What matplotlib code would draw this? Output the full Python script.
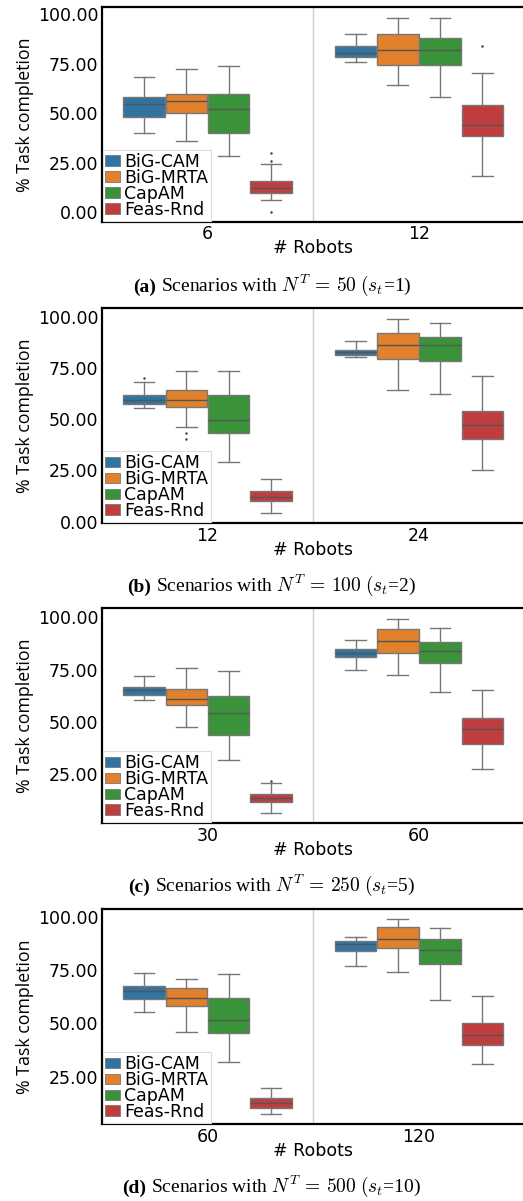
"""
Task completion boxplots, four scenario sizes.
"""
import matplotlib
matplotlib.use("Agg")
import matplotlib.pyplot as plt
from matplotlib.patches import Patch
import numpy as np

plt.rcParams["mathtext.fontset"] = "cm"

methods = ["BiG-CAM", "BiG-MRTA", "CapAM", "Feas-Rnd"]
colors = ["#3274a1", "#e1812c", "#3a923a", "#c03d3e"]

# box stats, rows = robot count, cols = method order above
# panel (a) N^T = 50
a_robots = ["6", "12"]
a_hi = [[68.1, 72.3, 74.1, 24.2], [90.3, 98.3, 98.3, 70.4]]
a_q3 = [[58.2, 60.0, 60.0, 16.0], [84.2, 90.3, 88.2, 54.1]]
a_med = [[54.5, 56.3, 52.3, 12.1], [80.5, 82.2, 82.2, 44.2]]
a_q1 = [[48.2, 50.3, 40.2, 9.9], [78.5, 74.3, 74.3, 38.3]]
a_lo = [[40.3, 36.1, 28.2, 6.1], [76.1, 64.2, 58.2, 18.2]]
a_fliers = [[[], [], [], [30.1, 26.1, 0.0]], [[], [], [], [84.2]]]

# panel (b) N^T = 100
b_robots = ["12", "24"]
b_hi = [[68.1, 73.3, 73.3, 21.0], [88.3, 99.0, 97.1, 71.2]]
b_q3 = [[62.0, 64.1, 62.0, 14.8], [83.9, 92.0, 90.1, 54.1]]
b_med = [[59.3, 59.2, 49.6, 12.0], [82.8, 86.3, 86.3, 47.2]]
b_q1 = [[57.2, 55.9, 43.1, 10.1], [81.3, 79.2, 78.4, 40.2]]
b_lo = [[55.3, 46.0, 28.9, 4.1], [80.2, 64.2, 62.1, 25.0]]
b_fliers = [[[70.1], [43.1, 40.2], [], []], [[], [], [], []]]

# panel (c) N^T = 250
c_robots = ["30", "60"]
c_hi = [[71.7, 75.9, 74.3, 20.5], [89.3, 99.4, 95.1, 65.1]]
c_q3 = [[66.8, 65.9, 62.5, 15.4], [85.0, 94.3, 88.4, 51.7]]
c_med = [[65.0, 60.7, 54.0, 13.4], [82.8, 88.8, 83.7, 46.4]]
c_q1 = [[62.7, 57.9, 43.8, 11.4], [80.8, 83.1, 78.1, 39.4]]
c_lo = [[60.3, 47.5, 31.7, 6.2], [74.6, 72.2, 64.2, 27.2]]
c_fliers = [[[], [], [], [21.8]], [[], [], [], []]]

# panel (d) N^T = 500
d_robots = ["60", "120"]
d_hi = [[73.8, 70.9, 73.3, 19.8], [90.6, 98.8, 94.8, 62.7]]
d_q3 = [[67.7, 66.6, 62.0, 15.0], [88.8, 95.3, 89.5, 50.3]]
d_med = [[65.0, 61.7, 51.4, 12.5], [87.0, 89.4, 84.2, 44.4]]
d_q1 = [[61.4, 58.0, 45.5, 10.5], [83.9, 85.2, 78.0, 39.7]]
d_lo = [[55.5, 45.8, 31.7, 7.3], [76.9, 74.2, 60.9, 30.8]]
d_fliers = [[[], [], [], []], [[], [], [], []]]

captions = [("(a)", r"Scenarios with $N^T\,=\,50$ $(s_t$=1)"),
            ("(b)", r"Scenarios with $N^T\,=\,100$ $(s_t$=2)"),
            ("(c)", r"Scenarios with $N^T\,=\,250$ $(s_t$=5)"),
            ("(d)", r"Scenarios with $N^T\,=\,500$ $(s_t$=10)")]

W, H = 523, 1201
fig = plt.figure(figsize=(W / 100, H / 100), dpi=100)

# axes placement in pixels: (top, bottom), ylim, caption baseline y
panels = [
    (a_robots, a_hi, a_q3, a_med, a_q1, a_lo, a_fliers, (7, 222), (-4.9, 103.7), 292),
    (b_robots, b_hi, b_q3, b_med, b_q1, b_lo, b_fliers, (308.3, 523.3), (-0.8, 104.1), 592),
    (c_robots, c_hi, c_q3, c_med, c_q1, c_lo, c_fliers, (608.3, 823.3), (1.4, 104.3), 892),
    (d_robots, d_hi, d_q3, d_med, d_q1, d_lo, d_fliers, (909, 1124.3), (2.7, 103.6), 1193),
]

line_col = "#777777"
med_col = "#555555"
left_px, right_px = 101.7, 524.7
box_w = 0.8 / 4 * 0.98
cap_size = 14

cap_texts = []
for k, (robots, hi, q3, med, q1, lo, fliers, (top, bot), ylim, cap_y) in enumerate(panels):
    ax = fig.add_axes([left_px / W, 1 - bot / H, (right_px - left_px) / W, (bot - top) / H])

    stats, pos, cols = [], [], []
    for i in range(len(robots)):
        for j in range(4):
            stats.append(dict(med=med[i][j], q1=q1[i][j], q3=q3[i][j],
                              whislo=lo[i][j], whishi=hi[i][j],
                              fliers=np.array(fliers[i][j])))
            pos.append(i + (j - 1.5) * 0.2)
            cols.append(colors[j])

    bp = ax.bxp(stats, positions=pos, widths=box_w, patch_artist=True,
                showfliers=True,
                boxprops=dict(edgecolor=line_col, linewidth=1.0),
                medianprops=dict(color=med_col, linewidth=1.0),
                whiskerprops=dict(color=line_col, linewidth=1.0),
                capprops=dict(color=line_col, linewidth=1.0),
                flierprops=dict(marker=".", markersize=1.6, markerfacecolor="#444444",
                                markeredgecolor="#444444", linestyle="none"))
    for patch, c in zip(bp["boxes"], cols):
        patch.set_facecolor(c)
    # caps a bit narrower than the box like seaborn
    for cap in bp["caps"]:
        x0, x1 = cap.get_xdata()
        xc = (x0 + x1) / 2
        cap.set_xdata([xc - box_w / 4, xc + box_w / 4])

    ax.axvline(0.5, color="#cccccc", linewidth=1.0, zorder=0)

    ax.set_xticks([0, 1])
    ax.set_xticklabels(robots)
    ax.set_yticks([0, 25, 50, 75, 100])
    ax.set_yticklabels([f"{v:.2f}" for v in [0, 25, 50, 75, 100]])
    ax.set_xlim(-0.5, 1.5)
    ax.set_ylim(*ylim)
    ax.tick_params(length=0, labelsize=12.5, pad=2.5)
    for s in ax.spines.values():
        s.set_linewidth(1.6)
        s.set_color("black")

    ax.set_xlabel("# Robots", fontsize=12.5, labelpad=-3)
    ax.set_ylabel("% Task completion", fontsize=12.8, family="Open Sans", labelpad=3)

    handles = [Patch(facecolor=c, edgecolor=line_col, linewidth=0.6) for c in colors]
    leg = ax.legend(handles, methods, loc="lower left", fontsize=12.5,
                    borderaxespad=0.05, borderpad=0.15, labelspacing=-0.12,
                    handlelength=0.85, handleheight=0.55, handletextpad=0.25,
                    fancybox=False, framealpha=1)
    leg.get_frame().set_edgecolor("#dddddd")
    leg.get_frame().set_linewidth(0.8)

    tag, rest = captions[k]
    y = 1 - cap_y / H
    t1 = fig.text(0, y, tag, family="Liberation Serif", weight="bold",
                  size=cap_size, va="baseline", ha="left")
    t2 = fig.text(0, y, rest, family="Liberation Serif", size=cap_size,
                  va="baseline", ha="left")
    cap_texts.append((t1, t2))

# centre the two-part captions at x = 272 px
fig.canvas.draw()
r = fig.canvas.get_renderer()
gap = 5
for t1, t2 in cap_texts:
    w1 = t1.get_window_extent(r).width
    w2 = t2.get_window_extent(r).width
    x0 = 272 - (w1 + gap + w2) / 2
    t1.set_x(x0 / W)
    t2.set_x((x0 + w1 + gap) / W)

fig.savefig("out.png", dpi=100)
